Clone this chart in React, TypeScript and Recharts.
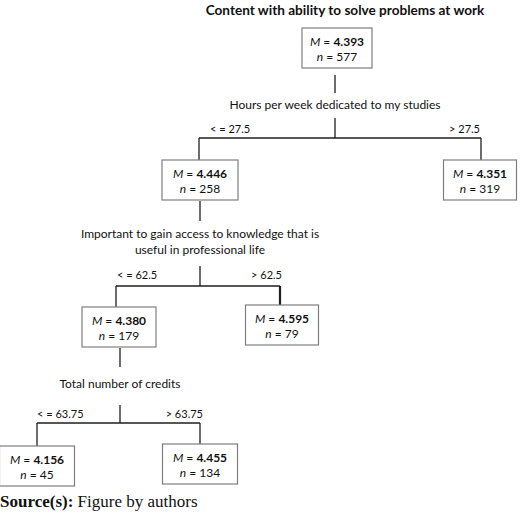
import React from 'react';
import { ComposedChart, Scatter, XAxis, YAxis, ReferenceLine } from 'recharts';

// ---------- data ----------
const chartTitle = 'Content with ability to solve problems at work';
const nodeMeans = ['4.393', '4.446', '4.351', '4.380', '4.595', '4.156', '4.455'];
const nodeCounts = [577, 258, 319, 179, 79, 45, 134];
const splitParents = [0, 1, 3];
const splitChildren = [[1, 2], [3, 4], [5, 6]];
const splitVariables = [
  ['Hours per week dedicated to my studies'],
  ['Important to gain access to knowledge that is', 'useful in professional life'],
  ['Total number of credits'],
];
const splitThresholds = ['27.5', '62.5', '63.75'];
const sourceLabel = 'Source(s):';
const sourceText = ' Figure by authors';

// ---------- layout (pixel-space coordinates on hidden axes) ----------
const W = 520;
const H = 514;
const nodeX = [337, 200, 480, 119, 282, 37, 200];
const nodeTop = [28, 160, 160, 307, 305, 446, 444];
const nodeW = [70, 76, 73, 74, 73, 75, 75];
const nodeH = 40;
const stemX = [335, 200, 120];
const stem1 = [[75, 93], [201, 221], [348, 367]];
const labelY = [104, 233, 383];
const stem2Top = [118, 266, 405];
const barY = [138, 286, 423];
const barX = [[199, 481], [116, 280], [37, 200]];
const thrY = [128, 274, 413];
const thrLeftX = [210, 117, 37];
const thrRightX = [480, 282, 203];

const SANS = 'Lato, Carlito, "Open Sans", sans-serif';
const SERIF = '"Liberation Serif", "Times New Roman", serif';
const LINE = '#1e1e1e';

const nodeData = nodeMeans.map((m, i) => ({ x: nodeX[i], y: nodeTop[i], m, n: nodeCounts[i], w: nodeW[i] }));

const splitLabelData = splitVariables.map((lines, i) => ({ x: stemX[i], y: labelY[i], lines }));

const thrData = splitThresholds.flatMap((t, i) => [
  { x: thrLeftX[i], y: thrY[i], text: `< = ${t}`, anchor: 'start' },
  { x: thrRightX[i], y: thrY[i], text: `> ${t}`, anchor: 'end' },
]);

const titleData = [{ x: 345, y: 10, text: chartTitle }];
const sourceData = [{ x: 0, y: 507 }];

type Seg = { a: { x: number; y: number }; b: { x: number; y: number }; w: number };
const segments: Seg[] = [];
splitParents.forEach((p, i) => {
  segments.push({ a: { x: stemX[i], y: stem1[i][0] }, b: { x: stemX[i], y: stem1[i][1] }, w: 1.3 });
  segments.push({ a: { x: stemX[i], y: stem2Top[i] }, b: { x: stemX[i], y: barY[i] }, w: 1.3 });
  segments.push({ a: { x: barX[i][0], y: barY[i] }, b: { x: barX[i][1], y: barY[i] }, w: 1.3 });
  splitChildren[i].forEach((c, k) => {
    segments.push({
      a: { x: barX[i][k], y: barY[i] },
      b: { x: barX[i][k], y: nodeTop[c] },
      w: i === 1 && k === 1 ? 2.2 : 1.3,
    });
  });
});

const NodeShape = (props: any) => {
  const { cx, cy, payload } = props;
  const w = payload.w;
  return (
    <g>
      <rect x={cx - w / 2} y={cy} width={w} height={nodeH} fill="#fff" stroke="#7f7f7f" strokeWidth={1.2} />
      <text x={cx} y={cy + 12.5} textAnchor="middle" dominantBaseline="central" fontFamily={SANS} fontSize={12} fill="#111">
        <tspan fontStyle="italic">M</tspan>
        <tspan> = </tspan>
        <tspan fontWeight="bold">{payload.m}</tspan>
      </text>
      <text x={cx} y={cy + 27.5} textAnchor="middle" dominantBaseline="central" fontFamily={SANS} fontSize={12} fill="#111">
        <tspan fontStyle="italic">n</tspan>
        <tspan>{` = ${payload.n}`}</tspan>
      </text>
    </g>
  );
};

const SplitLabelShape = (props: any) => {
  const { cx, cy, payload } = props;
  return (
    <g>
      {payload.lines.map((l: string, i: number) => (
        <text key={i} x={cx} y={cy + i * 16} textAnchor="middle" dominantBaseline="central" fontFamily={SANS} fontSize={12} fill="#111">
          {l}
        </text>
      ))}
    </g>
  );
};

const ThrShape = (props: any) => {
  const { cx, cy, payload } = props;
  return (
    <text x={cx} y={cy} textAnchor={payload.anchor} dominantBaseline="central" fontFamily={SANS} fontSize={11} fill="#111">
      {payload.text}
    </text>
  );
};

const TitleShape = (props: any) => {
  const { cx, cy, payload } = props;
  return (
    <text x={cx} y={cy} textAnchor="middle" dominantBaseline="central" fontFamily={SANS} fontWeight="bold" fontSize={13.6} fill="#111">
      {payload.text}
    </text>
  );
};

const SourceShape = (props: any) => {
  const { cx, cy } = props;
  return (
    <text x={cx} y={cy} textAnchor="start" fontFamily={SERIF} fontSize={17} fill="#111">
      <tspan fontWeight="bold">{sourceLabel}</tspan>
      <tspan>{sourceText}</tspan>
    </text>
  );
};

export default function App() {
  return (
    <div style={{ position: 'absolute', left: 0, top: 0, width: W, height: H, background: '#fff' }}>
      <ComposedChart width={W} height={H} margin={{ top: 0, right: 0, bottom: 0, left: 0 }}>
        <XAxis type="number" dataKey="x" domain={[0, W]} hide allowDataOverflow />
        <YAxis type="number" dataKey="y" domain={[0, H]} reversed hide allowDataOverflow />
        {segments.map((s, i) => (
          <ReferenceLine key={i} segment={[s.a, s.b]} stroke={LINE} strokeWidth={s.w} ifOverflow="visible" />
        ))}
        <Scatter data={nodeData} shape={NodeShape} isAnimationActive={false} />
        <Scatter data={splitLabelData} shape={SplitLabelShape} isAnimationActive={false} />
        <Scatter data={thrData} shape={ThrShape} isAnimationActive={false} />
        <Scatter data={titleData} shape={TitleShape} isAnimationActive={false} />
        <Scatter data={sourceData} shape={SourceShape} isAnimationActive={false} />
      </ComposedChart>
    </div>
  );
}
